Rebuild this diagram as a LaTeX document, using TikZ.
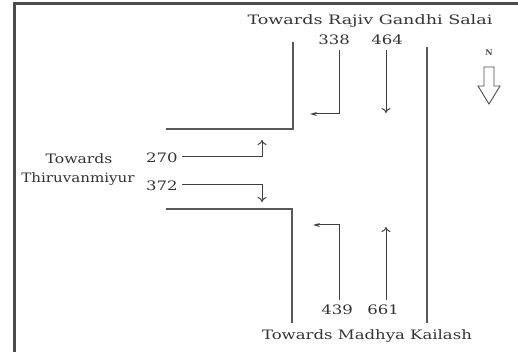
\documentclass[tikz,border=0pt]{standalone}
\usepackage{fontspec}
\usepackage{graphicx}
\setmainfont{DejaVu Serif}
\usetikzlibrary{arrows.meta}
\newcommand\widetxt[2][1.27]{\scalebox{#1}[1]{#2}}
\begin{document}
\begin{tikzpicture}[x=1pt,y=-1pt,
  road/.style={draw=black!65, line width=1.6pt},
  flow/.style={draw=black!75, line width=1pt, -{To[length=5pt,width=9pt]}},
  turn/.style={draw=black!75, line width=1pt, -{Stealth[length=7pt,width=4pt]}},
  lbl/.style={font=\fontsize{13}{15}\selectfont, text=black!80, inner sep=0pt}]
\useasboundingbox (0,0) rectangle (518,352);
\draw[black!70, line width=3pt] (14,4) rectangle (560,400);

% roads
\coordinate (nwTop) at (293,42);
\coordinate (nwCorner) at (293,129);
\coordinate (nwEnd) at (166,129);
\coordinate (swEnd) at (166,209);
\coordinate (swCorner) at (292,209);
\coordinate (swBot) at (292,323);
\coordinate (eTop) at (427,47);
\coordinate (eBot) at (427,323);
\draw[road] (nwTop) -- (nwCorner) -- (nwEnd);
\draw[road] (swEnd) -- (swCorner) -- (swBot);
\draw[road] (eTop) -- (eBot);

% labels
\node[lbl] (north) at (370,21) {\widetxt[1.35]{Towards Rajiv Gandhi Salai}};
\node[lbl] (south) at (367,336) {\widetxt{Towards Madhya Kailash}};
\node[lbl] (west1) at (79,159) {\widetxt[1.2]{Towards}};
\node[lbl] (west2) at (78,179) {\widetxt[1.16]{Thiruvanmiyur}};
\node[lbl] (n338) at (334,40) {\widetxt{338}};
\node[lbl] (n464) at (387,40) {\widetxt{464}};
\node[lbl] (n270) at (162,158) {\widetxt{270}};
\node[lbl] (n372) at (162,186) {\widetxt{372}};
\node[lbl] (n439) at (337,310) {\widetxt{439}};
\node[lbl] (n661) at (383,310) {\widetxt{661}};

% flows
\coordinate (s338) at (339,50);
\coordinate (k338) at (339,114);
\coordinate (e338) at (310,114);
\draw[turn] (s338) -- (k338) -- (e338);
\coordinate (s464) at (386,50);
\coordinate (e464) at (386,113);
\draw[flow] (s464) -- (e464);
\coordinate (s270) at (182,157);
\coordinate (e270) at (262,140);
\draw[flow] (s270) -| (e270);
\coordinate (s372) at (182,185);
\coordinate (e372) at (262,202);
\draw[flow] (s372) -| (e372);
\coordinate (s439) at (339,300);
\coordinate (k439) at (339,225);
\coordinate (e439) at (313,225);
\draw[turn] (s439) -- (k439) -- (e439);
\coordinate (s661) at (386,300);
\coordinate (e661) at (386,227);
\draw[flow] (s661) -- (e661);

% north sign
\node[font=\fontsize{8}{9}\selectfont\bfseries, text=black!70, inner sep=0pt] (nlabel) at (489,53) {N};
\draw[black!70, line width=0.9pt] (484,67) -- (494,67) -- (494,86) -- (500,86)
  -- (489,104) -- (478,86) -- (484,86) -- cycle;
\end{tikzpicture}
\end{document}
